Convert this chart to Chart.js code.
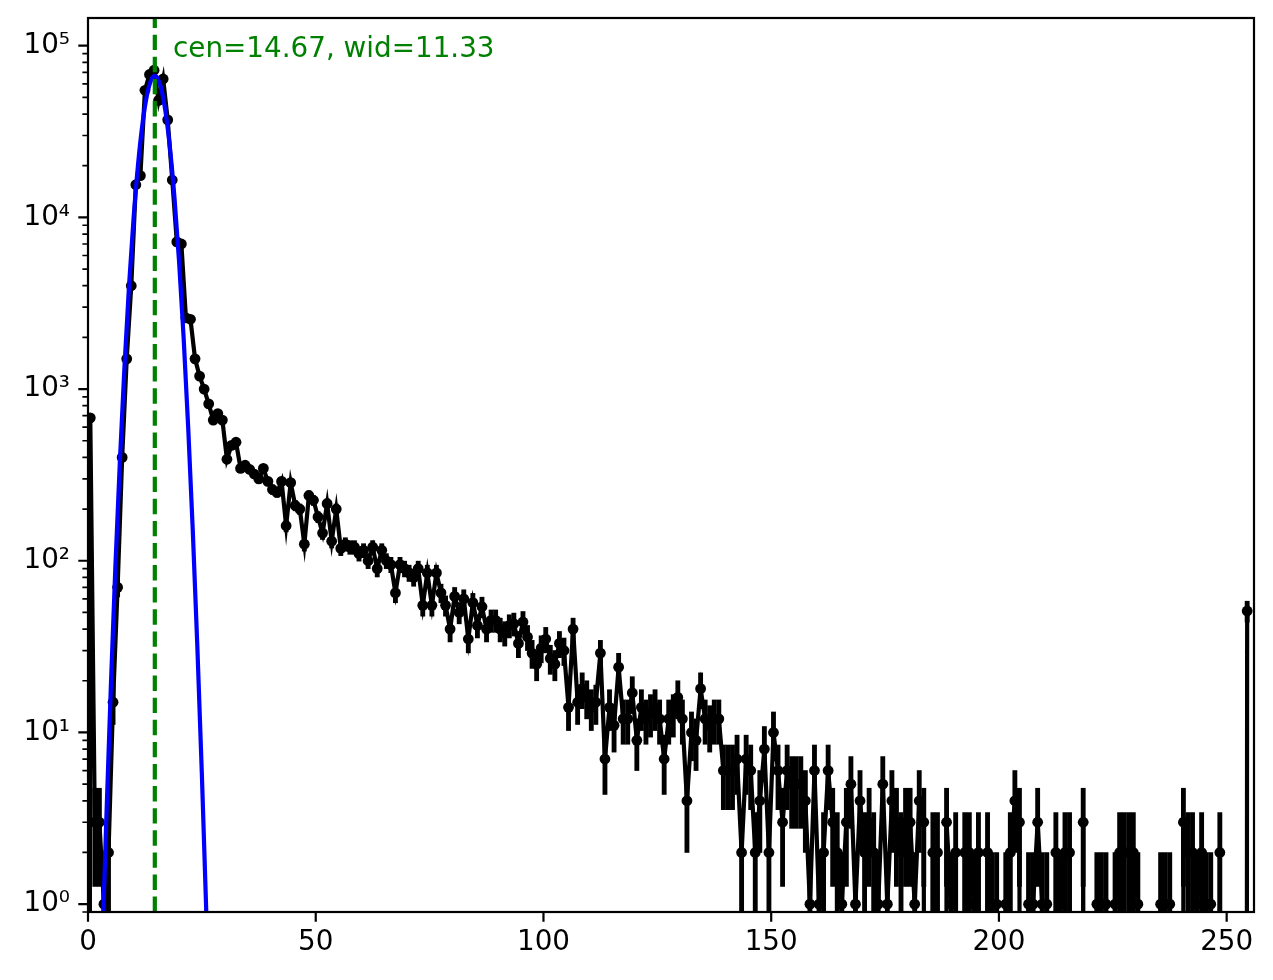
<!DOCTYPE html>
<html>
<head>
<meta charset="utf-8">
<script src="https://cdn.jsdelivr.net/npm/chart.js@4.4.0/dist/chart.umd.min.js"></script>
<style>
  html, body { margin: 0; padding: 0; background: #fff; }
  #wrap { width: 1273px; height: 980px; }
</style>
</head>
<body>
<div id="wrap"><canvas id="myCanvas" width="1273" height="980"></canvas></div>
<script>
// histogram counts, one per bin; bin i is centred at x = i - 0.5 (bin 0 sits left of the axis)
const counts = [
  0,
  680, 3, 3, 1, 2, 15, 70, 400, 1500, 4000,
  15500, 17500, 55000, 68000, 72000, 48000, 64000, 37000, 16500, 7200,
  7000, 2600, 2550, 1500, 1190, 1000, 820, 660, 720, 660,
  390, 470, 490, 345, 360, 340, 320, 300, 345, 290,
  260, 250, 290, 160, 285, 210, 200, 125, 240, 225,
  180, 145, 215, 130, 200, 118, 125, 120, 120, 110,
  115, 100, 120, 90, 115, 100, 95, 65, 95, 90,
  85, 80, 90, 55, 85, 55, 85, 65, 55, 40,
  62, 50, 60, 35, 57, 42, 54, 40, 45, 45,
  40, 38, 42, 43, 33, 44, 36, 29, 25, 31,
  35, 27, 25, 33, 30, 14, 40, 15, 18, 16,
  14, 15, 29, 7, 14, 11, 24, 12, 12, 17,
  9, 14, 12, 13, 14, 12, 7, 12, 13, 16,
  12, 4, 10, 9, 18, 12, 11, 12, 12, 6,
  6, 6, 7, 2, 7, 6, 2, 4, 8, 2,
  10, 6, 3, 6, 5, 5, 5, 4, 1, 6,
  1, 2, 6, 3, 2, 1, 3, 5, 1, 4,
  2, 3, 2, 1, 5, 1, 4, 3, 2, 3,
  3, 1, 4, 3, 0, 2, 2, 0, 3, 1,
  2, 0, 2, 2, 1, 2, 0, 2, 1, 1,
  0, 1, 2, 4, 3, 0, 1, 1, 3, 1,
  1, 0, 2, 1, 2, 2, 0, 0, 3, 0,
  0, 1, 1, 1, 0, 1, 2, 2, 2, 2,
  1, 0, 0, 0, 0, 1, 1, 1, 0, 0,
  3, 2, 2, 1, 2, 1, 1, 0, 2, 0,
  0, 0, 0, 0, 51
];
const binCenters = counts.map((c, i) => i - 0.5);

// gaussian fit curve
const fitX = [3, 4, 5, 6, 7, 8, 9, 10, 11, 12, 13, 14, 14.67, 15, 16, 17, 18, 19, 20, 21, 22, 23, 24, 25, 26, 27];
const fitY = [0.43, 3.0, 18, 91, 380, 1340, 3970, 9840, 20500, 35700, 52300, 64300, 66800, 66200,
  57200, 41500, 25200, 12900, 5510, 1980, 596, 151, 32, 5.7, 0.85, 0.11];

const cen = 14.67;
const noteText = 'cen=14.67, wid=11.33';
const noteX = 18.67;
const noteY = 9.5e4;

const xTickValues = [0, 50, 100, 150, 200, 250];
const xTickLabels = ['0', '50', '100', '150', '200', '250'];
const yTickValues = [1, 10, 100, 1000, 10000, 100000];
const yTickLabels = ['10⁰', '10¹', '10²', '10³', '10⁴', '10⁵'];

const xMin = 0, xMax = 256;
const yMin = 0.9, yMax = 1.45e5;

// zero counts go far below the axis, like matplotlib clipping them on a log axis
const FLOOR = 1e-30;
const FONT = { family: '"DejaVu Sans"', size: 27.8 };

const points = counts.map((c, i) => ({ x: binCenters[i], y: c > 0 ? c : FLOOR }));
const errBars = [];
counts.forEach((c, i) => {
  if (c > 0) {
    const e = Math.sqrt(c);
    errBars.push({ x: binCenters[i], y: [Math.max(c - e, FLOOR), c + e] });
  }
});
const fitLine = fitX.map((x, i) => ({ x: x, y: fitY[i] }));

// box and tick marks, matplotlib style
const frame = {
  id: 'frame',
  afterDraw(chart) {
    const { ctx, chartArea: a, scales: { x, y } } = chart;
    ctx.save();
    ctx.strokeStyle = '#000';
    ctx.lineWidth = 2.2;
    ctx.strokeRect(a.left, a.top, a.right - a.left, a.bottom - a.top);
    ctx.beginPath();
    xTickValues.forEach(v => {
      const p = x.getPixelForValue(v);
      ctx.moveTo(p, a.bottom);
      ctx.lineTo(p, a.bottom + 9.7);
    });
    yTickValues.forEach(v => {
      const p = y.getPixelForValue(v);
      ctx.moveTo(a.left, p);
      ctx.lineTo(a.left - 9.7, p);
    });
    ctx.stroke();
    ctx.lineWidth = 1.7;
    ctx.beginPath();
    for (let e = -1; e <= 5; e++) {
      for (let n = 2; n <= 9; n++) {
        const v = n * Math.pow(10, e);
        if (v < yMin || v > yMax) continue;
        const p = y.getPixelForValue(v);
        ctx.moveTo(a.left, p);
        ctx.lineTo(a.left - 5.6, p);
      }
    }
    ctx.stroke();
    ctx.restore();
  }
};

const annotate = {
  id: 'annotate',
  afterDatasetsDraw(chart) {
    const { ctx, scales: { x, y } } = chart;
    ctx.save();
    ctx.font = '27.8px "DejaVu Sans"';
    ctx.fillStyle = 'green';
    ctx.textAlign = 'left';
    ctx.textBaseline = 'middle';
    ctx.fillText(noteText, x.getPixelForValue(noteX), y.getPixelForValue(noteY));
    ctx.restore();
  }
};

// pin the plot box where the reference has it
function noPad(s) {
  s.paddingTop = 0;
  s.paddingBottom = 0;
  s.paddingLeft = 0;
  s.paddingRight = 0;
}

const canvas = document.getElementById('myCanvas');
new Chart(canvas.getContext('2d'), {
  type: 'line',
  data: {
    datasets: [
      {
        label: 'cen',
        data: [{ x: cen, y: yMin }, { x: cen, y: yMax }],
        borderColor: 'green',
        borderWidth: 4.2,
        borderDash: [15.4, 6.7],
        pointRadius: 0,
        clip: 0,
        order: 0
      },
      {
        label: 'fit',
        data: fitLine,
        borderColor: 'blue',
        borderWidth: 4.2,
        pointRadius: 0,
        cubicInterpolationMode: 'monotone',
        clip: 0,
        order: 1
      },
      {
        label: 'counts',
        data: points,
        borderColor: '#000',
        borderWidth: 4.2,
        pointRadius: 5.4,
        pointBorderWidth: 0,
        pointBackgroundColor: '#000',
        clip: 0,
        order: 2
      },
      {
        type: 'bar',
        label: 'errors',
        data: errBars,
        backgroundColor: '#000',
        barThickness: 4.2,
        borderWidth: 0,
        clip: 0,
        order: 3
      }
    ]
  },
  options: {
    responsive: false,
    animation: false,
    devicePixelRatio: 1,
    events: [],
    layout: { padding: { top: 18, right: 19, left: 0, bottom: 0 } },
    plugins: { legend: { display: false }, tooltip: { enabled: false } },
    scales: {
      x: {
        type: 'linear',
        min: xMin,
        max: xMax,
        offset: false,
        afterBuildTicks: s => { s.ticks = xTickValues.map(v => ({ value: v })); },
        afterFit: s => { s.height = 68; noPad(s); },
        grid: { display: false, drawTicks: false },
        border: { display: false },
        ticks: {
          autoSkip: false,
          maxRotation: 0,
          padding: 14,
          color: '#000',
          font: FONT,
          callback: (v, i) => xTickLabels[i]
        }
      },
      y: {
        type: 'logarithmic',
        min: yMin,
        max: yMax,
        afterBuildTicks: s => { s.ticks = yTickValues.map(v => ({ value: v })); },
        afterFit: s => { s.width = 88; noPad(s); },
        grid: { display: false, drawTicks: false },
        border: { display: false },
        ticks: {
          autoSkip: false,
          padding: 18,
          color: '#000',
          font: FONT,
          callback: (v, i) => yTickLabels[i]
        }
      }
    }
  },
  plugins: [frame, annotate]
});
</script>
</body>
</html>
